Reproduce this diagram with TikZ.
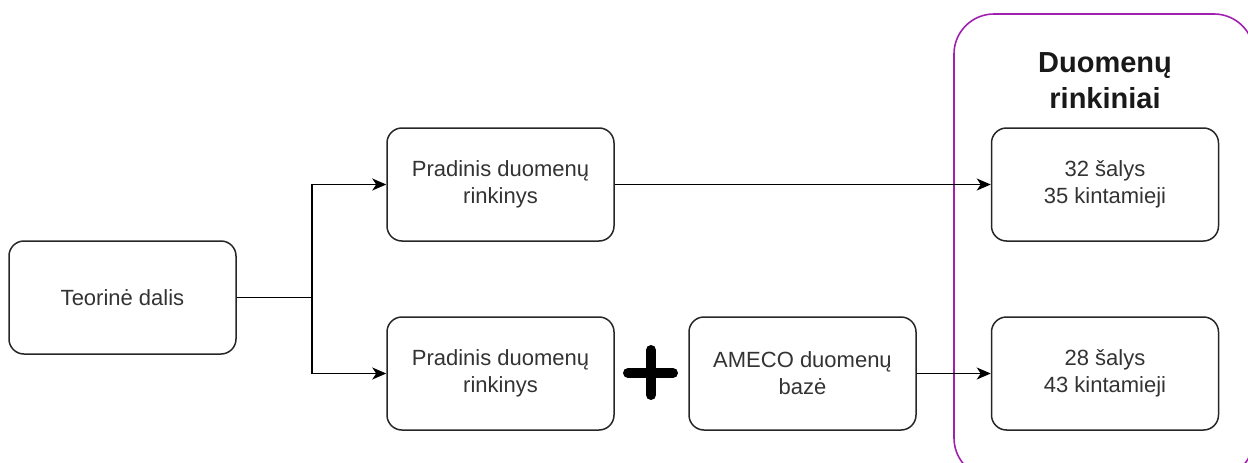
\documentclass[tikz,border=0pt]{standalone}
\usepackage{fontspec}
\setmainfont{Liberation Sans}
\usetikzlibrary{arrows.meta}
\definecolor{txt}{HTML}{333333}
\definecolor{purp}{RGB}{160,32,176}
\begin{document}
\begin{tikzpicture}[x=1pt,y=-1pt,
  box/.style={draw=black!85, line width=1.5pt, rounded corners=15pt, minimum width=227pt, minimum height=113pt, align=center, inner sep=0pt, text=txt, font=\fontsize{22}{27}\selectfont},
  arr/.style={line width=1.5pt, -{Stealth[length=14pt,width=12pt,inset=4pt]}},
  conn/.style={line width=1.5pt}]
\useasboundingbox (0,0) rectangle (1248,463);
\draw[purp, line width=1.6pt, rounded corners=40pt] (954,14) rectangle (1254,478);
\node[align=center, text=black!90, font=\bfseries\fontsize{29}{36}\selectfont] (title) at (1105,81) {Duomenų\\rinkiniai};
\node[box] (teo) at (122.5,297.5) {Teorinė dalis};
\node[box] (p1) at (500.5,184.5) {Pradinis duomenų\\rinkinys};
\node[box] (p2) at (500.5,373.5) {Pradinis duomenų\\rinkinys};
\node[box] (ameco) at (802.5,373.5) {AMECO duomenų\\bazė};
\node[box] (r1) at (1105,184.5) {32 šalys\\35 kintamieji};
\node[box] (r2) at (1105,373.5) {28 šalys\\43 kintamieji};
\coordinate (j) at (312,297.5);
\draw[conn] (teo.east) -- (j);
\draw[arr] (j) |- (p1.west);
\draw[arr] (j) |- (p2.west);
\draw[arr] (p1.east) -- (r1.west);
\draw[arr] (ameco.east) -- (r2.west);
\draw[line width=10pt, line cap=round] (628,373) -- (673,373);
\draw[line width=10pt, line cap=round] (651,350) -- (651,395);
\end{tikzpicture}
\end{document}
